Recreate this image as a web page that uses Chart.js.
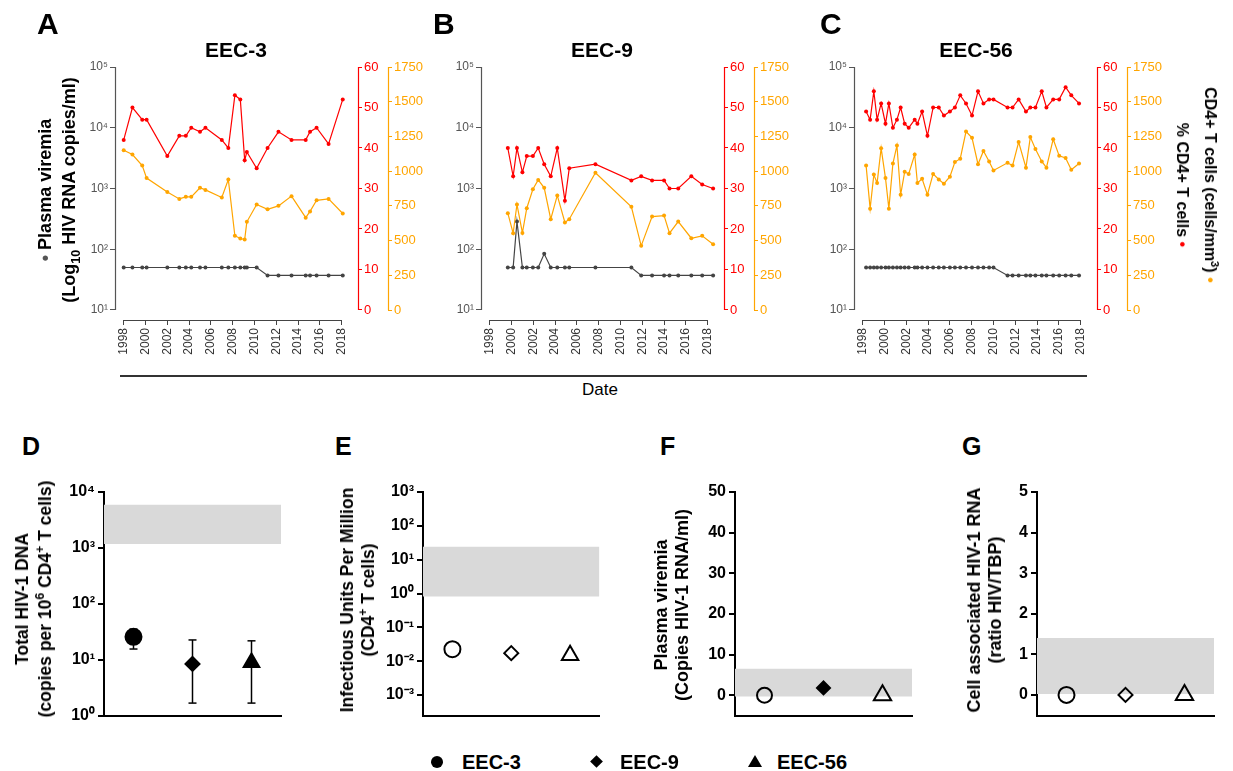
<!DOCTYPE html>
<html>
<head>
<meta charset="utf-8">
<script src="https://cdn.jsdelivr.net/npm/chart.js@4.4.1/dist/chart.umd.min.js"></script>
<style>
  body { margin: 0; background: #fff; font-family: "Liberation Sans", Arial, sans-serif; }
  #page { position: relative; width: 1233px; height: 771px; overflow: hidden; background: #fff; }
  canvas { position: absolute; }
  .lbl { position: absolute; white-space: nowrap; font-weight: bold; line-height: 1; color: #000; }
  .ctr { transform: translateX(-50%); }
  .rot { position: absolute; white-space: nowrap; font-weight: bold; text-align: center; color: #000;
         transform: translate(-50%, -50%) rotate(-90deg); }
  .rot90 { position: absolute; white-space: nowrap; font-weight: bold; text-align: center; color: #000;
           transform: translate(-50%, -50%) rotate(90deg); }
  sub, sup { font-size: 0.7em; line-height: 0; }
  .sym { position: absolute; background: #000; }
</style>
</head>
<body>
<div id="page">
  <canvas id="cA" width="430" height="372" style="left:0;top:0"></canvas>
  <canvas id="cB" width="430" height="372" style="left:366px;top:0"></canvas>
  <canvas id="cC" width="430" height="372" style="left:739px;top:0"></canvas>

  <canvas id="cD" width="238" height="260" style="left:54px;top:470px"></canvas>
  <canvas id="cE" width="238" height="260" style="left:373px;top:470px"></canvas>
  <canvas id="cF" width="239" height="260" style="left:685px;top:470px"></canvas>
  <canvas id="cG" width="239" height="260" style="left:987px;top:470px"></canvas>

  <!-- panel letters -->
  <div class="lbl" style="left:37px;top:9px;font-size:30px">A</div>
  <div class="lbl" style="left:433px;top:9px;font-size:30px">B</div>
  <div class="lbl" style="left:820px;top:9px;font-size:30px">C</div>
  <div class="lbl" style="left:22px;top:434px;font-size:25px">D</div>
  <div class="lbl" style="left:335px;top:434px;font-size:25px">E</div>
  <div class="lbl" style="left:660px;top:434px;font-size:25px">F</div>
  <div class="lbl" style="left:962px;top:434px;font-size:25px">G</div>

  <!-- titles -->
  <div class="lbl ctr" style="left:236px;top:39px;font-size:21px">EEC-3</div>
  <div class="lbl ctr" style="left:602px;top:39px;font-size:21px">EEC-9</div>
  <div class="lbl ctr" style="left:976px;top:39px;font-size:21px">EEC-56</div>

  <!-- top axis titles -->
  <div class="rot" style="left:57px;top:190px;font-size:18px;line-height:24px"><span style="color:#555">&bull;</span> Plasma viremia<br>(Log<sub>10</sub> HIV RNA copies/ml)</div>
  <div class="rot90" style="left:1196px;top:185px;font-size:16px;line-height:28px">CD4+ T cells (cells/mm<sup>3</sup>) <span style="color:#ffa500">&bull;</span><br>% CD4+ T cells <span style="color:#ff0000">&bull;</span></div>

  <div style="position:absolute;left:120px;top:375px;width:967px;height:2px;background:#333"></div>
  <div class="lbl ctr" style="left:600px;top:381px;font-size:17px;font-weight:normal">Date</div>

  <!-- bottom axis titles -->
  <div class="rot" style="left:34px;top:599px;font-size:17.5px;line-height:23px">Total HIV-1 DNA<br>(copies per 10<sup>6</sup> CD4<sup>+</sup> T cells)</div>
  <div class="rot" style="left:358px;top:600px;font-size:17.5px;line-height:21px">Infectious Units Per Million<br>(CD4<sup>+</sup> T cells)</div>
  <div class="rot" style="left:672px;top:605px;font-size:18px;line-height:21px">Plasma viremia<br>(Copies HIV-1 RNA/ml)</div>
  <div class="rot" style="left:985px;top:600px;font-size:18px;line-height:21px">Cell associated HIV-1 RNA<br>(ratio HIV/TBP)</div>

  <!-- legend -->
  <div class="sym" style="left:431px;top:756px;width:12px;height:12px;border-radius:50%"></div>
  <div class="lbl" style="left:462px;top:752px;font-size:20px">EEC-3</div>
  <div class="sym" style="left:592px;top:757px;width:9px;height:9px;transform:rotate(45deg)"></div>
  <div class="lbl" style="left:620px;top:752px;font-size:20px">EEC-9</div>
  <div style="position:absolute;left:748px;top:755px;width:0;height:0;border-left:7px solid transparent;border-right:7px solid transparent;border-bottom:12px solid #000"></div>
  <div class="lbl" style="left:777px;top:752px;font-size:20px">EEC-56</div>
</div>

<script>
// ---- panel A : EEC-3 ----
const yearsA = [1998.0, 1998.8, 1999.7, 2000.1, 2002.0, 2003.1, 2003.7, 2004.2, 2005.0, 2005.5, 2007.0, 2007.6, 2008.2,
  2008.7, 2009.1, 2009.3, 2010.2, 2011.2, 2012.2, 2013.4, 2014.7, 2015.1, 2015.7, 2016.8, 2018.1];
const viremiaA = [50, 50, 50, 50, 50, 50, 50, 50, 50, 50, 50, 50, 50, 50, 50, 50, 50, 37, 37, 37, 37, 37, 37, 37, 37];
const pctA = [42, 50, 47, 47, 38, 43, 43, 45, 44, 45, 42, 40, 53, 52, 37, 39, 35, 40, 44, 42, 42, 44, 45, 41, 52];
const cd4A = [1150, 1120, 1040, 950, 850, 800, 815, 815, 880, 865, 810, 940, 535, 515, 508, 635, 760, 725, 750, 820,
  665, 710, 790, 800, 695];

// ---- panel B : EEC-9 ----
const yearsB = [1999.66, 2000.15, 2000.5, 2001.0, 2001.4, 2001.96, 2002.45, 2003.0, 2003.6, 2004.2, 2004.9, 2005.3,
  2007.7, 2011.0, 2011.9, 2012.9, 2014.0, 2014.5, 2015.3, 2016.5, 2017.5, 2018.5];
const viremiaB = [50, 50, 286, 50, 50, 50, 50, 84, 50, 50, 50, 50, 50, 50, 37, 37, 37, 37, 37, 37, 37, 37];
const pctB = [40, 33, 40, 34, 38, 38, 40, 36, 33, 40, 27, 35, 36, 32, 33, 32, 32, 30, 30, 33, 31, 30];
const cd4B = [697, 553, 760, 555, 733, 870, 937, 880, 654, 825, 630, 654, 988, 743, 462, 673, 680, 553, 637, 517, 534, 474];

// ---- panel C : EEC-56 ----
const yearsC = [1998.31, 1998.68, 1999.02, 1999.32, 1999.69, 2000.09, 2000.4, 2000.77, 2001.14, 2001.48, 2001.85,
  2002.22, 2002.77, 2003.02, 2003.45, 2003.94, 2004.46, 2004.98, 2005.45, 2006.0, 2006.46, 2006.95, 2007.48, 2008.03,
  2008.58, 2009.08, 2009.6, 2010.0, 2011.29, 2011.75, 2012.31, 2012.98, 2013.38, 2013.85, 2014.43, 2014.86, 2015.48,
  2016.03, 2016.62, 2017.14, 2017.85];
const viremiaC = [50, 50, 50, 50, 50, 50, 50, 50, 50, 50, 50, 50, 50, 50, 50, 50, 50, 50, 50, 50, 50, 50, 50, 50,
  50, 50, 50, 50, 37, 37, 37, 37, 37, 37, 37, 37, 37, 37, 37, 37, 37];
const pctC = [49, 47, 54, 47, 51, 46, 51, 45, 47, 50, 46, 45, 47, 46, 49, 43, 50, 50, 48, 49, 50, 53, 51, 48, 54, 51,
  52, 52, 50, 50, 52, 49, 50, 50, 54, 50, 52, 52, 55, 53, 51];
const cd4C = [1040, 730, 975, 915, 1165, 950, 730, 1055, 1185, 830, 995, 980, 1120, 915, 945, 830, 980, 940, 910, 960,
  1065, 1090, 1285, 1240, 1050, 1145, 1070, 1005, 1060, 1040, 1210, 1025, 1245, 1160, 1070, 1025, 1230, 1110, 1095,
  1010, 1055];

// tick labels of the top panels
const yearTicks = [1998, 2000, 2002, 2004, 2006, 2008, 2010, 2012, 2014, 2016, 2018];
const viremiaTicks = [10, 100, 1000, 10000, 100000];
const pctTicks = [0, 10, 20, 30, 40, 50, 60];
const cd4Ticks = [0, 250, 500, 750, 1000, 1250, 1500, 1750];

// ---- panels D-G ----
const groups = ['EEC-3', 'EEC-9', 'EEC-56'];
const groupX = [0.5, 1.5, 2.5];
const dnaVals = [26, 8.5, 9];
const dnaLow = [15.7, 1.7, 1.7];
const dnaHigh = [35.6, 22.8, 22];
const dnaBand = [1180, 5900];
const iupmVals = [0.0226, 0.0173, 0.015];
const iupmBand = [0.81, 24];
const plasmaVals = [0, 1.8, 0];
const plasmaBand = [-0.3, 6.5];
const caRnaVals = [0, 0, 0];
const caRnaBand = [0.02, 1.4];
const dnaTicks = [1, 10, 100, 1000, 10000];
const iupmTicks = [0.001, 0.01, 0.1, 1, 10, 100, 1000];
const plasmaTicks = [0, 10, 20, 30, 40, 50];
const caRnaTicks = [0, 1, 2, 3, 4, 5];

const RED = '#ff0000', ORANGE = '#ffa500', DARK = '#444', BAND = '#d9d9d9', NONE = 'rgba(0,0,0,0)';

Chart.defaults.font.family = '"Liberation Sans", Arial, sans-serif';

const SUP = { '0': '⁰', '1': '¹', '2': '²', '3': '³', '4': '⁴', '5': '⁵', '6': '⁶', '7': '⁷', '8': '⁸', '9': '⁹', '-': '⁻' };
const pow10 = v => '10' + String(Math.round(Math.log10(v))).split('').map(c => SUP[c]).join('');
const setTicks = list => s => { s.ticks = list.map(value => ({ value })); };

// R style axis lines, from first to last tick only
const rAxes = {
  id: 'rAxes',
  afterDraw(chart, args, opts) {
    const ctx = chart.ctx;
    for (const [id, color] of Object.entries(opts.colors || {})) {
      const s = chart.scales[id];
      const a = s.getPixelForValue(s.ticks[0].value);
      const b = s.getPixelForValue(s.ticks[s.ticks.length - 1].value);
      ctx.save();
      ctx.strokeStyle = color;
      ctx.lineWidth = 1.2;
      ctx.beginPath();
      if (s.isHorizontal()) {
        const y = Math.round(s.top) + 0.5;
        ctx.moveTo(a, y); ctx.lineTo(b, y);
      } else {
        const x = Math.round(s.position === 'left' ? s.right : s.left) + 0.5;
        ctx.moveTo(x, a); ctx.lineTo(x, b);
      }
      ctx.stroke();
      ctx.restore();
    }
  }
};

function topPanel(id, years, viremia, pct, cd4) {
  const pts = arr => years.map((x, i) => ({ x, y: arr[i] }));
  const series = (data, axis, color) => ({
    data, yAxisID: axis, borderColor: color, backgroundColor: color,
    borderWidth: 1.2, pointRadius: 2, pointBorderWidth: 0, pointHoverRadius: 2
  });
  new Chart(document.getElementById(id), {
    type: 'line',
    data: { datasets: [series(pts(pct), 'yPct', RED), series(pts(cd4), 'yCd4', ORANGE), series(pts(viremia), 'y', DARK)] },
    options: {
      responsive: false, animation: false, devicePixelRatio: 1,
      layout: { padding: { left: 75, right: 0, top: 67, bottom: 7 } },
      plugins: {
        legend: { display: false }, tooltip: { enabled: false },
        rAxes: { colors: { x: DARK, y: '#555', yPct: RED, yCd4: ORANGE } }
      },
      scales: {
        x: {
          type: 'linear', min: 1997.2, max: 2019.5,
          afterBuildTicks: setTicks(yearTicks), afterFit: s => { s.height = 45; },
          border: { display: false },
          grid: { drawOnChartArea: false, tickLength: 5, color: DARK },
          ticks: { autoSkip: false, minRotation: 90, maxRotation: 90, padding: 3, color: '#333', font: { size: 12 },
            callback: v => String(v) }
        },
        y: {
          type: 'logarithmic', position: 'left', min: 6.84, max: 1e5,
          afterBuildTicks: setTicks(viremiaTicks), afterFit: s => { s.width = 40; },
          border: { display: false },
          grid: { drawOnChartArea: false, tickLength: 5, color: '#555' },
          ticks: { color: '#555', font: { size: 12 }, padding: 2, callback: v => pow10(v) }
        },
        yPct: {
          type: 'linear', position: 'right', min: -2.47, max: 60,
          afterBuildTicks: setTicks(pctTicks), afterFit: s => { s.width = 30; },
          border: { display: false },
          grid: { drawOnChartArea: false, tickLength: 4, color: RED },
          ticks: { color: RED, font: { size: 13 }, padding: 2 }
        },
        yCd4: {
          type: 'linear', position: 'right', min: -72, max: 1750,
          afterBuildTicks: setTicks(cd4Ticks), afterFit: s => { s.width = 42; },
          border: { display: false },
          grid: { drawOnChartArea: false, tickLength: 4, color: ORANGE },
          ticks: { color: ORANGE, font: { size: 13 }, padding: 2, callback: v => String(v) }
        }
      }
    },
    plugins: [rAxes]
  });
}

function bottomPanel(id, cfg) {
  const datasets = [
    { data: [{ x: 0, y: cfg.band[0] }, { x: 3, y: cfg.band[0] }], borderColor: NONE, pointRadius: 0, fill: false, order: 3 },
    { data: [{ x: 0, y: cfg.band[1] }, { x: 3, y: cfg.band[1] }], borderColor: NONE, backgroundColor: BAND,
      pointRadius: 0, fill: '-1', order: 2 },
    { data: groupX.map((x, i) => ({ x, y: cfg.vals[i] })), label: 'markers', showLine: false,
      pointStyle: cfg.styles, pointRadius: cfg.radii, pointHoverRadius: cfg.radii,
      pointBackgroundColor: cfg.fills, pointBorderColor: '#000', pointBorderWidth: 2, order: 0 }
  ];
  (cfg.low || []).forEach((lo, i) => {
    datasets.push({
      data: [{ x: groupX[i], y: lo }, { x: groupX[i], y: cfg.high[i] }], borderColor: '#000', borderWidth: 1.5,
      pointStyle: 'line', pointRadius: 4, pointHoverRadius: 4, pointBorderColor: '#000', pointBorderWidth: 1.5, order: 1
    });
  });
  new Chart(document.getElementById(id), {
    type: 'line',
    data: { datasets },
    options: {
      responsive: false, animation: false, devicePixelRatio: 1,
      layout: { padding: { left: 0, right: 5, top: 22, bottom: 14 } },
      plugins: { legend: { display: false }, tooltip: { enabled: false } },
      scales: {
        x: {
          type: 'linear', min: 0, max: 3, afterFit: s => { s.height = 0; },
          ticks: { display: false }, grid: { display: false },
          border: { display: true, color: '#000', width: 2 }
        },
        y: {
          type: cfg.log ? 'logarithmic' : 'linear', min: cfg.min, max: cfg.max,
          afterBuildTicks: setTicks(cfg.ticks), afterFit: s => { s.width = 50; },
          border: { color: '#000', width: 2 },
          grid: { drawOnChartArea: false, color: '#000', lineWidth: 2, tickLength: 6 },
          ticks: { color: '#000', font: { size: 16, weight: 'bold' }, padding: 3,
            callback: v => cfg.log ? pow10(v) : String(v) }
        }
      }
    }
  });
}

topPanel('cA', yearsA, viremiaA, pctA, cd4A);
topPanel('cB', yearsB, viremiaB, pctB, cd4B);
topPanel('cC', yearsC, viremiaC, pctC, cd4C);

const shapes = ['circle', 'rectRot', 'triangle'];
bottomPanel('cD', { log: true, min: 1, max: 1e4, ticks: dnaTicks, band: dnaBand, vals: dnaVals, low: dnaLow, high: dnaHigh,
  styles: shapes, radii: [8, 7, 9], fills: ['#000', '#000', '#000'] });
bottomPanel('cE', { log: true, min: 2.4e-4, max: 1e3, ticks: iupmTicks, band: iupmBand, vals: iupmVals,
  styles: shapes, radii: [8, 7, 9.5], fills: [NONE, NONE, NONE] });
bottomPanel('cF', { log: false, min: -5.1, max: 50, ticks: plasmaTicks, band: plasmaBand, vals: plasmaVals,
  styles: shapes, radii: [7.5, 6.5, 10], fills: [NONE, '#000', NONE] });
bottomPanel('cG', { log: false, min: -0.52, max: 5, ticks: caRnaTicks, band: caRnaBand, vals: caRnaVals,
  styles: shapes, radii: [8, 7, 10], fills: [NONE, NONE, NONE] });
</script>
</body>
</html>
